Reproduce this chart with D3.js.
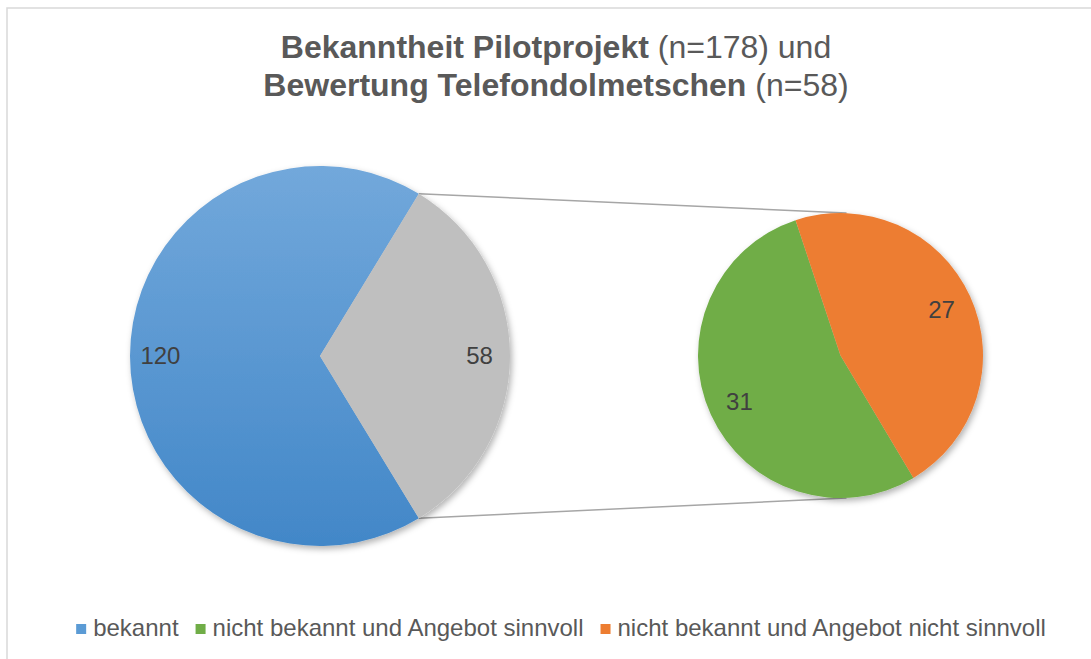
<!DOCTYPE html>
<html>
<head>
<meta charset="utf-8">
<script src="https://cdn.jsdelivr.net/npm/d3@7"></script>
<style>
  body { margin: 0; background: #fff; }
  svg { font-family: "Liberation Sans", Arial, sans-serif; }
</style>
</head>
<body>
<svg id="chart" width="1091" height="659"></svg>
<script>
// data
const mainCats = ["bekannt", "nicht bekannt"];
const mainValues = [120, 58];
const subCats = ["nicht bekannt und Angebot sinnvoll", "nicht bekannt und Angebot nicht sinnvoll"];
const subValues = [31, 27];
const legendLabels = ["bekannt", "nicht bekannt und Angebot sinnvoll", "nicht bekannt und Angebot nicht sinnvoll"];

const colors = {
  "bekannt": "url(#blueGrad)",
  "nicht bekannt": "#BFBFBF",
  "nicht bekannt und Angebot sinnvoll": "#70AD47",
  "nicht bekannt und Angebot nicht sinnvoll": "#ED7D31"
};
const legendColors = ["#5B9BD5", "#70AD47", "#ED7D31"];

const svg = d3.select("#chart");
const W = 1091, H = 659;

// frame
svg.append("rect")
  .attr("x", 7).attr("y", 8)
  .attr("width", W + 10).attr("height", H + 10)
  .attr("fill", "#fff")
  .attr("stroke", "#D9D9D9")
  .attr("stroke-width", 1.5);

const c1 = {x: 320, y: 356, r: 190};
const c2 = {x: 840.5, y: 355.5, r: 142.5};

const defs = svg.append("defs");
const grad = defs.append("linearGradient")
  .attr("id", "blueGrad")
  .attr("gradientUnits", "userSpaceOnUse")
  .attr("x1", 0).attr("x2", 0).attr("y1", -c1.r).attr("y2", c1.r);
grad.append("stop").attr("offset", "0%").attr("stop-color", "#72A8DB");
grad.append("stop").attr("offset", "100%").attr("stop-color", "#4287C8");

const shadow = defs.append("filter").attr("id", "shadow")
  .attr("x", "-10%").attr("y", "-10%").attr("width", "125%").attr("height", "125%");
shadow.append("feDropShadow")
  .attr("dx", 2).attr("dy", 3).attr("stdDeviation", 3)
  .attr("flood-color", "#000").attr("flood-opacity", 0.3);

// title
const title = svg.append("text")
  .attr("text-anchor", "middle")
  .attr("fill", "#595959")
  .attr("font-size", 32);
const t1 = title.append("tspan").attr("x", 556).attr("y", 58);
t1.append("tspan").attr("font-weight", "bold").text("Bekanntheit Pilotprojekt");
t1.append("tspan").text(" (n=178) und");
const t2 = title.append("tspan").attr("x", 556).attr("y", 96);
t2.append("tspan").attr("font-weight", "bold").text("Bewertung Telefondolmetschen");
t2.append("tspan").text(" (n=58)");

// main pie
const total = d3.sum(mainValues);
const start1 = Math.PI / 2 + (mainValues[1] / total) * Math.PI;
const pie1 = d3.pie().sort(null).startAngle(start1).endAngle(start1 + 2 * Math.PI);
const arcs1 = pie1(mainValues).map((a, i) => Object.assign(a, {cat: mainCats[i]}));
const arc1 = d3.arc().innerRadius(0).outerRadius(c1.r);
const lab1 = d3.arc().innerRadius(c1.r * 0.84).outerRadius(c1.r * 0.84);

// connectors
const grayArc = arcs1[1];
const pt = (a, c) => [c.x + c.r * Math.sin(a), c.y - c.r * Math.cos(a)];
const topA = pt(grayArc.startAngle, c1), botA = pt(grayArc.endAngle, c1);
svg.append("line")
  .attr("x1", topA[0]).attr("y1", topA[1])
  .attr("x2", c2.x + 6).attr("y2", c2.y - c2.r)
  .attr("stroke", "#A6A6A6").attr("stroke-width", 1.5);
svg.append("line")
  .attr("x1", botA[0]).attr("y1", botA[1])
  .attr("x2", c2.x + 6).attr("y2", c2.y + c2.r)
  .attr("stroke", "#A6A6A6").attr("stroke-width", 1.5);

const g1 = svg.append("g").attr("transform", `translate(${c1.x},${c1.y})`);
g1.append("g").attr("filter", "url(#shadow)")
  .selectAll("path").data(arcs1).join("path")
  .attr("d", arc1)
  .attr("fill", d => colors[d.cat]);
g1.selectAll("text").data(arcs1).join("text")
  .attr("transform", d => `translate(${lab1.centroid(d)})`)
  .attr("text-anchor", "middle")
  .attr("dy", "0.35em")
  .attr("font-size", 24)
  .attr("fill", "#404040")
  .text(d => d.value);

// secondary pie
const start2 = 149.2 * Math.PI / 180;
const pie2 = d3.pie().sort(null).startAngle(start2).endAngle(start2 + 2 * Math.PI);
const arcs2 = pie2(subValues).map((a, i) => Object.assign(a, {cat: subCats[i]}));
const arc2 = d3.arc().innerRadius(0).outerRadius(c2.r);
const lab2 = d3.arc().innerRadius(c2.r * 0.78).outerRadius(c2.r * 0.78);

const g2 = svg.append("g").attr("transform", `translate(${c2.x},${c2.y})`);
g2.append("g").attr("filter", "url(#shadow)")
  .selectAll("path").data(arcs2).join("path")
  .attr("d", arc2)
  .attr("fill", d => colors[d.cat]);
g2.selectAll("text").data(arcs2).join("text")
  .attr("transform", d => `translate(${lab2.centroid(d)})`)
  .attr("text-anchor", "middle")
  .attr("dy", "0.35em")
  .attr("font-size", 24)
  .attr("fill", "#404040")
  .text(d => d.value);

// legend
const legend = svg.append("g");
let lx = 0;
legendLabels.forEach((l, i) => {
  const g = legend.append("g").attr("transform", `translate(${lx},0)`);
  g.append("rect").attr("x", 0).attr("y", -12).attr("width", 10).attr("height", 10)
    .attr("fill", legendColors[i]);
  const t = g.append("text").attr("x", 17).attr("y", 0)
    .attr("font-size", 24).attr("fill", "#595959").text(l);
  lx += 17 + t.node().getComputedTextLength() + 17;
});
const lw = lx - 17;
legend.attr("transform", `translate(${561 - lw / 2},636)`);
</script>
</body>
</html>
